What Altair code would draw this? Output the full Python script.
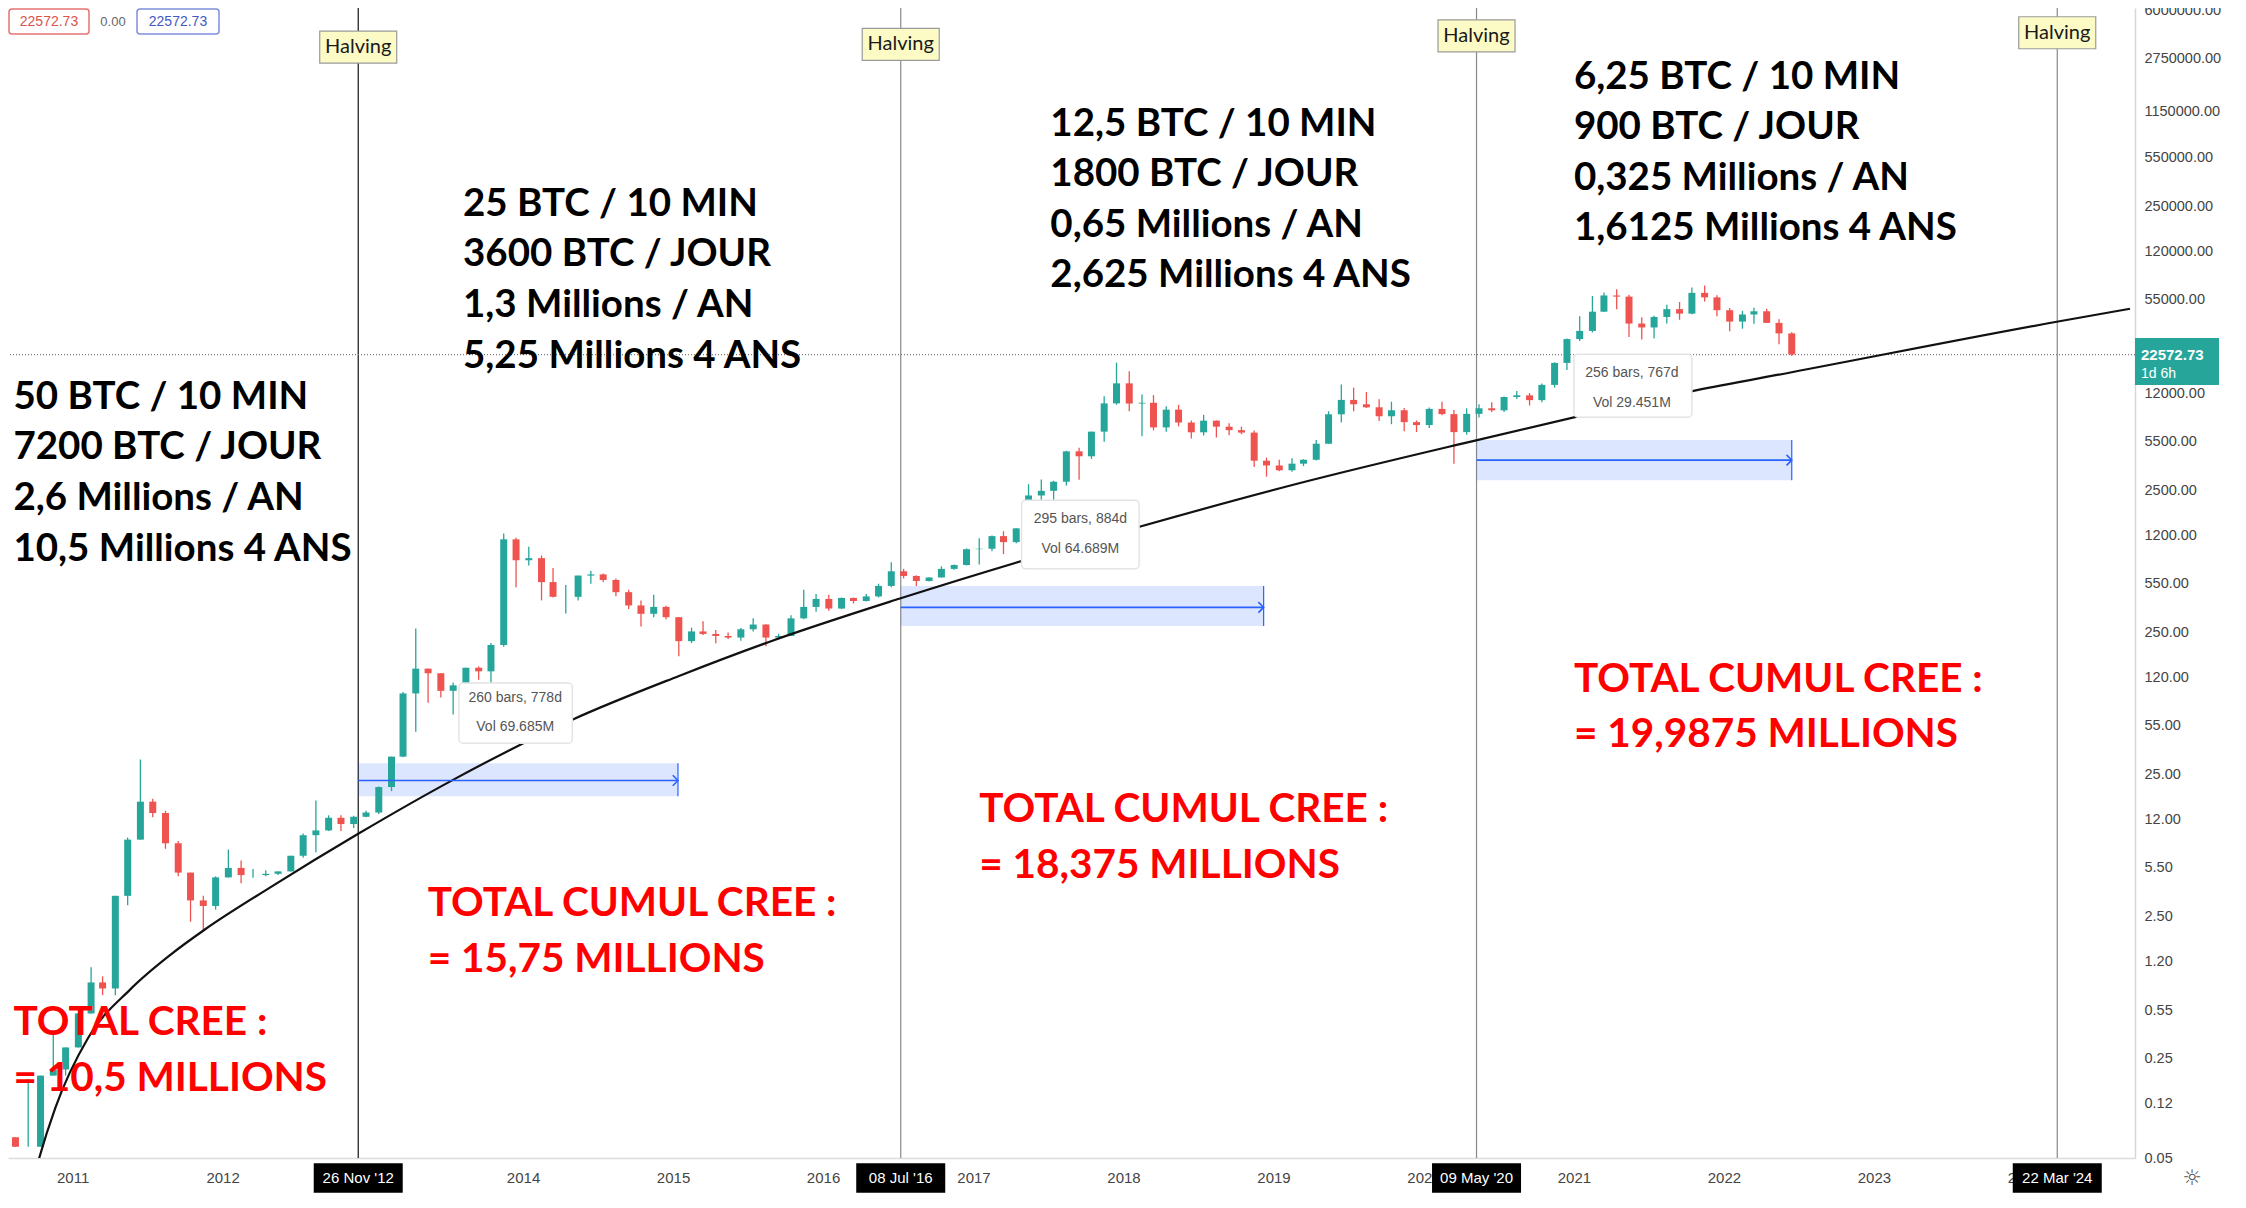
import altair as alt
import pandas as pd

# ---------------- monthly BTC candles (Aug 2010 - Jun 2022) ----------------
opens = (
    [0.07, 0.06, 0.06, 0.19, 0.21]
    + [0.30, 0.52, 0.86, 0.78, 3.50, 8.70, 16.1, 13.4, 8.2, 5.1, 3.25, 2.97]
    + [4.72, 5.5, 4.9, 4.9, 5.0, 5.2, 6.7, 9.35, 10.1, 12.4, 11.2, 12.6]
    + [13.5, 20.4, 33.4, 93, 139, 129, 97, 106, 141, 133, 204, 1130]
    + [805, 833, 565, 445, 445, 628, 640, 585, 480, 387, 338, 378]
    + [320, 217, 254, 244, 236, 230, 263, 284, 230, 236, 314, 378]
    + [430, 368, 437, 416, 448, 531, 673, 624, 575, 609, 700, 745]
    + [963, 970, 1190, 1080, 1350, 2300, 2480, 2875, 4700, 4340, 6470, 10230]
    + [14150, 10200, 10330, 6930, 9240, 7500, 6400, 7730, 7010, 6630, 6370, 4040]
    + [3740, 3460, 3850, 4100, 5320, 8570, 10820, 10080, 9600, 8300, 9150, 7550]
    + [7200, 9350, 8600, 6420, 8630, 9450, 9140, 11340, 11650, 10780, 13800, 19700]
    + [28990, 33100, 45200, 58800, 57700, 37300, 35000, 41500, 47100, 43800, 61300, 57000]
    + [46300, 38500, 43200, 45500, 37700, 31800]
)
highs = (
    [0.07, 0.18, 0.19, 0.39, 0.30]
    + [0.52, 1.10, 0.95, 3.50, 9.00, 31.9, 16.9, 13.9, 8.5, 5.1, 3.5, 4.8]
    + [7.4, 6.2, 5.4, 5.3, 5.2, 6.7, 9.6, 16.4, 12.9, 12.9, 12.8, 13.9]
    + [20.6, 33.4, 95, 266, 139, 129, 111, 141, 144, 211, 1240, 1160]
    + [1000, 870, 710, 540, 630, 680, 650, 600, 500, 420, 460, 385]
    + [320, 270, 300, 260, 250, 268, 315, 285, 245, 330, 500, 465]
    + [460, 440, 440, 465, 550, 780, 700, 630, 610, 730, 750, 975]
    + [1150, 1200, 1290, 1350, 2760, 2980, 2920, 4750, 4980, 6470, 11500, 19800]
    + [17200, 11800, 11700, 9750, 9990, 7760, 8500, 7760, 7400, 7000, 6600, 4250]
    + [4100, 4200, 4140, 5640, 9000, 13880, 13200, 12300, 10950, 10500, 9500, 7750]
    + [9580, 10500, 9200, 9470, 10070, 10400, 11450, 12480, 12090, 14100, 19900, 29300]
    + [41900, 58300, 61800, 64900, 59500, 41300, 42300, 50500, 52900, 67000, 69000, 59000]
    + [47900, 45800, 48200, 47400, 40000, 32400]
)
lows = (
    [0.06, 0.06, 0.06, 0.19, 0.19]
    + [0.30, 0.52, 0.70, 0.70, 3.00, 8.70, 12.5, 7.5, 4.8, 2.3, 2.0, 2.8]
    + [4.7, 4.3, 4.7, 4.8, 4.9, 5.2, 6.5, 7.1, 10.0, 10.0, 10.5, 12.5]
    + [13.2, 19.1, 33.1, 50, 80, 87, 66, 101, 116, 105, 198, 520]
    + [740, 420, 440, 340, 420, 550, 565, 450, 365, 275, 320, 310]
    + [170, 210, 240, 210, 225, 218, 254, 200, 225, 236, 310, 350]
    + [355, 365, 400, 412, 440, 520, 600, 530, 570, 609, 690, 740]
    + [750, 930, 890, 1060, 1350, 2100, 1830, 2700, 2970, 4160, 5500, 10000]
    + [9000, 6000, 6600, 6450, 7050, 5780, 6070, 5880, 6100, 6200, 3650, 3120]
    + [3400, 3380, 3700, 4060, 5300, 7500, 9000, 9500, 7700, 7300, 6500, 6430]
    + [6850, 8450, 3850, 6150, 8120, 8900, 8900, 10970, 9880, 10400, 13200, 17600]
    + [28100, 32300, 45000, 47000, 30000, 28800, 29300, 37300, 39600, 43300, 53300, 42000]
    + [32900, 34300, 37200, 37600, 26700, 22000]
)
closes = (
    [0.06, 0.06, 0.19, 0.21, 0.30]
    + [0.52, 0.86, 0.78, 3.50, 8.70, 16.1, 13.4, 8.2, 5.1, 3.25, 2.97, 4.72]
    + [5.5, 4.9, 4.9, 5.0, 5.2, 6.7, 9.35, 10.1, 12.4, 11.2, 12.6, 13.5]
    + [20.4, 33.4, 93, 139, 129, 97, 106, 141, 133, 204, 1130, 805]
    + [833, 565, 445, 445, 628, 640, 585, 480, 387, 338, 378, 320]
    + [217, 254, 244, 236, 230, 263, 284, 230, 236, 314, 378, 430]
    + [368, 437, 416, 448, 531, 673, 624, 575, 609, 700, 745, 963]
    + [970, 1190, 1080, 1350, 2300, 2480, 2875, 4700, 4340, 6470, 10230, 14150]
    + [10200, 10330, 6930, 9240, 7500, 6400, 7730, 7010, 6630, 6370, 4040, 3740]
    + [3460, 3850, 4100, 5320, 8570, 10820, 10080, 9600, 8300, 9150, 7550, 7200]
    + [9350, 8600, 6420, 8630, 9450, 9140, 11340, 11650, 10780, 13800, 19700, 28990]
    + [33100, 45200, 58800, 57700, 37300, 35000, 41500, 47100, 43800, 61300, 57000, 46300]
    + [38500, 43200, 45500, 37700, 31800, 22572.73]
)
months = pd.date_range("2010-08-01", "2022-06-01", freq="MS")
candle_dates = [(m + pd.Timedelta(days=14)).strftime("%Y-%m-%d") for m in months]

# ---------------- fitted curve ----------------
curve_dates = ["2010-09-28", "2010-10-09", "2010-11-20", "2011-02-08", "2011-05-22",
               "2011-08-27", "2011-11-18", "2012-04-27", "2012-11-28", "2013-07-18",
               "2014-05-01", "2015-01-14", "2015-08-24", "2016-07-04", "2017-04-28",
               "2018-02-11", "2019-03-02", "2020-05-08", "2021-01-01", "2021-10-22",
               "2022-06-15", "2024-03-24", "2024-09-15"]
curve_values = [0.0355, 0.0468, 0.1128, 0.351, 0.772, 1.346, 2.02, 4.03, 9.64, 23.2,
                60.8, 123, 215, 431, 795, 1390, 2790, 5620, 8150, 12590, 16950, 38550, 47400]

# ---------------- halvings ----------------
halving_dates = ["2012-11-26", "2016-07-08", "2020-05-09", "2024-03-22"]
halving_date_labels = ["26 Nov '12", "08 Jul '16", "09 May '20", "22 Mar '24"]
halving_tag_prices = [3.29e6, 3.44e6, 3.95e6, 4.15e6]
halving_tag_text = "Halving"

# ---------------- date-range measure boxes ----------------
range_start = ["2012-11-26", "2016-07-08", "2020-05-09"]
range_end = ["2015-01-13", "2018-12-08", "2022-06-15"]
range_hi = [30.0, 531, 5640]
range_lo = [17.6, 277, 2945]
range_mid = [22.7, 375, 4075]

tip_x0 = ["2013-07-29", "2017-04-28", "2021-01-01"]
tip_x1 = ["2014-05-01", "2018-02-08", "2021-10-15"]
tip_xc = ["2013-12-13", "2017-09-18", "2021-05-22"]
tip_hi = [110, 2130, 22650]
tip_lo = [41.5, 701, 8170]
tip_line1 = ["260 bars, 778d", "295 bars, 884d", "256 bars, 767d"]
tip_line1_price = [87, 1578, 16750]
tip_line2 = ["Vol 69.685M", "Vol 64.689M", "Vol 29.451M"]
tip_line2_price = [53.6, 969, 10300]

# ---------------- annotations ----------------
info_dates = ["2010-08-10", "2013-08-08", "2017-07-07", "2021-01-01"]
info_prices = [15240, 347500, 1273000, 2735000]
info_texts = [
    "50 BTC / 10 MIN\n7200 BTC / JOUR\n2,6 Millions / AN\n10,5 Millions 4 ANS",
    "25 BTC / 10 MIN\n3600 BTC / JOUR\n1,3 Millions / AN\n5,25 Millions 4 ANS",
    "12,5 BTC / 10 MIN\n1800 BTC / JOUR\n0,65 Millions / AN\n2,625 Millions 4 ANS",
    "6,25 BTC / 10 MIN\n900 BTC / JOUR\n0,325 Millions / AN\n1,6125 Millions 4 ANS",
]
total_dates = ["2010-08-10", "2013-05-14", "2017-01-15", "2021-01-01"]
total_prices = [0.619, 4.24, 19.5, 160.7]
total_texts = [
    "TOTAL CREE :\n= 10,5 MILLIONS",
    "TOTAL CUMUL CREE :\n= 15,75 MILLIONS",
    "TOTAL CUMUL CREE :\n= 18,375 MILLIONS",
    "TOTAL CUMUL CREE :\n= 19,9875 MILLIONS",
]

last_price = 22572.73
price_tag_lines = ["22572.73", "1d 6h"]
header_texts = ["22572.73", "0.00", "22572.73"]

y_ticks = [0.05, 0.12, 0.25, 0.55, 1.2, 2.5, 5.5, 12, 25, 55, 120, 250, 550, 1200, 2500,
           5500, 12000, 25000, 55000, 120000, 250000, 550000, 1150000, 2750000, 6000000]
year_ticks = list(range(2011, 2025))

# ---------------- frames ----------------
candles = pd.DataFrame({"date": candle_dates, "open": opens, "high": highs,
                        "low": lows, "close": closes})
candles["dir"] = ["up" if c >= o else "down" for o, c in zip(opens, closes)]
curve = pd.DataFrame({"date": curve_dates, "p": curve_values})
halv = pd.DataFrame({"date": halving_dates, "lab": halving_date_labels,
                     "tag": halving_tag_prices, "idx": list(range(len(halving_dates)))})
halv["txt"] = halving_tag_text
rng = pd.DataFrame({"x0": range_start, "x1": range_end, "hi": range_hi,
                    "lo": range_lo, "mid": range_mid})
tips = pd.DataFrame({"x0": tip_x0, "x1": tip_x1, "xc": tip_xc, "hi": tip_hi, "lo": tip_lo,
                     "t1": tip_line1, "p1": tip_line1_price,
                     "t2": tip_line2, "p2": tip_line2_price})
info = pd.DataFrame({"date": info_dates, "p": info_prices, "t": info_texts})
total = pd.DataFrame({"date": total_dates, "p": total_prices, "t": total_texts})
last = pd.DataFrame({"p": [last_price], "t1": [price_tag_lines[0]], "t2": [price_tag_lines[1]]})
header = pd.DataFrame({"a": [header_texts[0]], "b": [header_texts[1]], "c": [header_texts[2]]})

# ---------------- scales / axes ----------------
xscale = alt.Scale(type="utc", domain=[alt.DateTime(year=2010, month=8, date=9, utc=True),
                                        alt.DateTime(year=2024, month=9, date=15, utc=True)])
yscale = alt.Scale(type="log", domain=[0.05, 6200000], nice=False)
xaxis = alt.Axis(values=[alt.DateTime(year=y, month=1, date=1, utc=True) for y in year_ticks],
                 format="%Y", formatType="utc", title=None, grid=False, ticks=False,
                 labelFont="Liberation Sans", labelFontSize=15, labelColor="#444",
                 labelPadding=12, labelFlush=False, labelOverlap=False,
                 domainColor="#dcdcdc", domainWidth=1.5)
yaxis = alt.Axis(orient="right", values=y_ticks, format=".2f", title=None, grid=False,
                 ticks=False, labelFont="Liberation Sans", labelFontSize=14.5,
                 labelColor="#444", labelPadding=9, labelOverlap=False, labelFlush=False,
                 labelBound=False, domainColor="#d6d6d6", domainWidth=1.5)


def X(f):
    return alt.X(f"{f}:T", scale=xscale, axis=xaxis)


def X2(f):
    return alt.X2(f"{f}:T")


def Y(f):
    return alt.Y(f"{f}:Q", scale=yscale, axis=yaxis)


def Y2(f):
    return alt.Y2(f"{f}:Q")


RECT_TAG = "M-1,-0.4156L1,-0.4156L1,0.4156L-1,0.4156Z"
RECT_DATE = "M-1,-0.33L1,-0.33L1,0.33L-1,0.33Z"
CHEVRON = "M-1,-1L0,0L-1,1"

layers = []

# halving vertical lines (first one black, the others grey)
layers.append(alt.Chart(halv).mark_rule(strokeWidth=1.2).encode(
    x=X("date"),
    stroke=alt.Stroke("idx:O", scale=alt.Scale(domain=[0, 1, 2, 3],
                                               range=["#111111", "#8a8a8a", "#8a8a8a", "#8a8a8a"]),
                      legend=None)))

# last price dotted line
layers.append(alt.Chart(last).mark_rule(color="#7a7a7a", strokeDash=[1, 2], strokeWidth=1.2)
              .encode(y=Y("p")))

# range boxes
layers.append(alt.Chart(rng).mark_rect(fill="#2962ff", fillOpacity=0.16).encode(
    x=X("x0"), x2=X2("x1"), y=Y("hi"), y2=Y2("lo")))

# candles
ccol = alt.Color("dir:N", scale=alt.Scale(domain=["up", "down"], range=["#26a69a", "#ef5350"]),
                 legend=None)
layers.append(alt.Chart(candles).mark_rule(strokeWidth=1.3).encode(
    x=X("date"), y=Y("low"), y2=Y2("high"), color=ccol))
layers.append(alt.Chart(candles).mark_bar(width=7).encode(
    x=X("date"), y=Y("open"), y2=Y2("close"), color=ccol))

# curve
layers.append(alt.Chart(curve).mark_line(color="#111111", strokeWidth=2.2,
                                          interpolate="monotone", clip=True)
              .encode(x=X("date"), y=Y("p")))

# range arrows
layers.append(alt.Chart(rng).mark_rule(color="#2962ff", strokeWidth=1.6).encode(
    x=X("x0"), x2=X2("x1"), y=Y("mid")))
layers.append(alt.Chart(rng).mark_rule(color="#2962ff", strokeWidth=1.2).encode(
    x=X("x1"), y=Y("hi"), y2=Y2("lo")))
layers.append(alt.Chart(rng).mark_point(shape=CHEVRON, size=110, filled=False, opacity=1,
                                        color="#2962ff", strokeWidth=1.6)
              .encode(x=X("x1"), y=Y("mid")))

# measurement tooltips
layers.append(alt.Chart(tips).mark_rect(fill="white", stroke="#e4e4e4", strokeWidth=1.5,
                                        cornerRadius=4).encode(
    x=X("x0"), x2=X2("x1"), y=Y("hi"), y2=Y2("lo")))
layers.append(alt.Chart(tips).mark_text(font="Liberation Sans", fontSize=14, color="#555555",
                                        baseline="middle").encode(
    x=X("xc"), y=Y("p1"), text="t1:N"))
layers.append(alt.Chart(tips).mark_text(font="Liberation Sans", fontSize=14, color="#555555",
                                        baseline="middle").encode(
    x=X("xc"), y=Y("p2"), text="t2:N"))

# black info text blocks
layers.append(alt.Chart(info).mark_text(font="Lato", fontWeight="bold", fontSize=38.5,
                                        color="#000000", align="left", baseline="top",
                                        lineBreak="\n", lineHeight=50.6)
              .encode(x=X("date"), y=Y("p"), text="t:N"))
# red totals
layers.append(alt.Chart(total).mark_text(font="Lato", fontWeight="bold", fontSize=40.5,
                                         color="#ff0000", align="left", baseline="top",
                                         lineBreak="\n", lineHeight=55.8)
              .encode(x=X("date"), y=Y("p"), text="t:N"))

# Halving tags at top
layers.append(alt.Chart(halv).mark_point(shape=RECT_TAG, size=77 * 77, filled=True, opacity=1,
                                         fill="#fcfbc6", stroke="#9a9a9a", strokeWidth=1.2)
              .encode(x=X("date"), y=Y("tag")))
layers.append(alt.Chart(halv).mark_text(font="Lato", fontSize=20, color="#1a1a1a",
                                        baseline="middle").encode(
    x=X("date"), y=Y("tag"), text="txt:N"))

# halving date boxes on time axis
layers.append(alt.Chart(halv).mark_point(shape=RECT_DATE, size=89 * 89, filled=True, opacity=1,
                                         fill="#000000", strokeWidth=0)
              .encode(x=X("date"), y=alt.value(1170)))
layers.append(alt.Chart(halv).mark_text(font="Liberation Sans", fontSize=15, color="white",
                                        baseline="middle").encode(
    x=X("date"), y=alt.value(1170), text="lab:N"))

# last price tag on the price axis
layers.append(alt.Chart(last).mark_rect(fill="#26a69a").encode(
    x=alt.value(2127), x2=alt.value(2211), y=alt.value(330), y2=alt.value(377)))
layers.append(alt.Chart(last).mark_text(font="Liberation Sans", fontSize=15, fontWeight="bold",
                                        color="white", align="left", baseline="middle")
              .encode(x=alt.value(2133), y=alt.value(347), text="t1:N"))
layers.append(alt.Chart(last).mark_text(font="Liberation Sans", fontSize=14,
                                        color="white", align="left", baseline="middle")
              .encode(x=alt.value(2133), y=alt.value(366), text="t2:N"))

# header boxes (top-left)
layers.append(alt.Chart(header).mark_rect(fill="white", stroke="#e57373", strokeWidth=1.5,
                                          cornerRadius=3).encode(
    x=alt.value(1), x2=alt.value(81), y=alt.value(1), y2=alt.value(26)))
layers.append(alt.Chart(header).mark_rect(fill="white", stroke="#7f8fdc", strokeWidth=1.5,
                                          cornerRadius=3).encode(
    x=alt.value(129), x2=alt.value(211), y=alt.value(1), y2=alt.value(26)))
layers.append(alt.Chart(header).mark_text(font="Liberation Sans", fontSize=14, color="#d9534f",
                                          baseline="middle").encode(
    x=alt.value(41), y=alt.value(14), text="a:N"))
layers.append(alt.Chart(header).mark_text(font="Liberation Sans", fontSize=13, color="#666666",
                                          baseline="middle").encode(
    x=alt.value(105), y=alt.value(14), text="b:N"))
layers.append(alt.Chart(header).mark_text(font="Liberation Sans", fontSize=14, color="#4657c0",
                                          baseline="middle").encode(
    x=alt.value(170), y=alt.value(14), text="c:N"))

# settings glyph
layers.append(alt.Chart(header).mark_text(font="DejaVu Sans", fontSize=22, color="#555555",
                                          baseline="middle", text="\u263c").encode(
    x=alt.value(2184), y=alt.value(1170)))

chart = alt.layer(*layers).properties(
    width=2127, height=1150,
    padding={"left": 0, "top": 0, "right": 95, "bottom": 36},
    autosize=alt.AutoSizeParams(type="none"),
    background="white",
).configure_view(stroke=None)

chart.save("out.html", embed_options={"renderer": "svg", "actions": False})
